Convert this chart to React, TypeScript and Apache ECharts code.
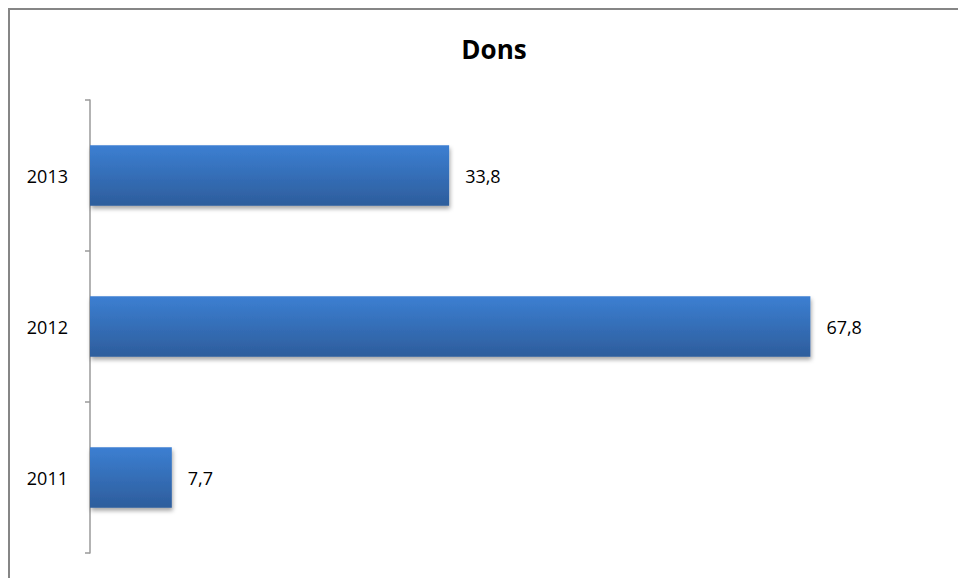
import React, { useEffect, useRef } from "react";
import * as echarts from "echarts";

const categories = ["2011", "2012", "2013"];
const values = [7.7, 67.8, 33.8];
const title = "Dons";

export default function App() {
  const ref = useRef<HTMLDivElement>(null);
  useEffect(() => {
    if (!ref.current) return;
    const chart = echarts.init(ref.current, null, { renderer: "svg" });
    chart.setOption({
      animation: false,
      backgroundColor: "transparent",
      title: {
        text: title,
        left: 489,
        top: 31,
        textAlign: "center",
        textStyle: { fontFamily: "Open Sans", fontWeight: "bold", fontSize: 26, color: "#000" },
      },
      grid: { left: 90, top: 100, width: 850, height: 453, containLabel: false },
      xAxis: { type: "value", min: 0, max: 80, show: false },
      yAxis: {
        type: "category",
        data: categories,
        boundaryGap: true,
        axisLine: { show: true, lineStyle: { color: "#9a9a9a", width: 1.5 } },
        axisTick: { show: true, length: 5, lineStyle: { color: "#9a9a9a", width: 1.5 } },
        axisLabel: { margin: 22, fontFamily: "Open Sans", fontSize: 18, color: "#000" },
        splitLine: { show: false },
      },
      series: [
        {
          type: "bar",
          data: values,
          barCategoryGap: "60%",
          itemStyle: {
            color: new echarts.graphic.LinearGradient(0, 0, 0, 1, [
              { offset: 0, color: "#3c7fd2" },
              { offset: 1, color: "#2d5d9c" },
            ]),
            shadowColor: "rgba(0,0,0,0.35)",
            shadowBlur: 4,
            shadowOffsetY: 3,
            shadowOffsetX: 1,
          },
          label: {
            show: true,
            position: "right",
            distance: 16,
            fontFamily: "Open Sans",
            fontSize: 18,
            color: "#000",
            formatter: (p: any) => String(p.value).replace(".", ","),
          },
        },
      ],
    });
    return () => chart.dispose();
  }, []);
  return (
    <>
      <div
        style={{
          position: "fixed",
          left: 8,
          top: 8,
          width: 1200,
          height: 900,
          borderLeft: "2px solid #868686",
          borderTop: "2px solid #868686",
          background: "#fff",
        }}
      />
      <div ref={ref} style={{ position: "fixed", left: 0, top: 0, width: 958, height: 578 }} />
    </>
  );
}
